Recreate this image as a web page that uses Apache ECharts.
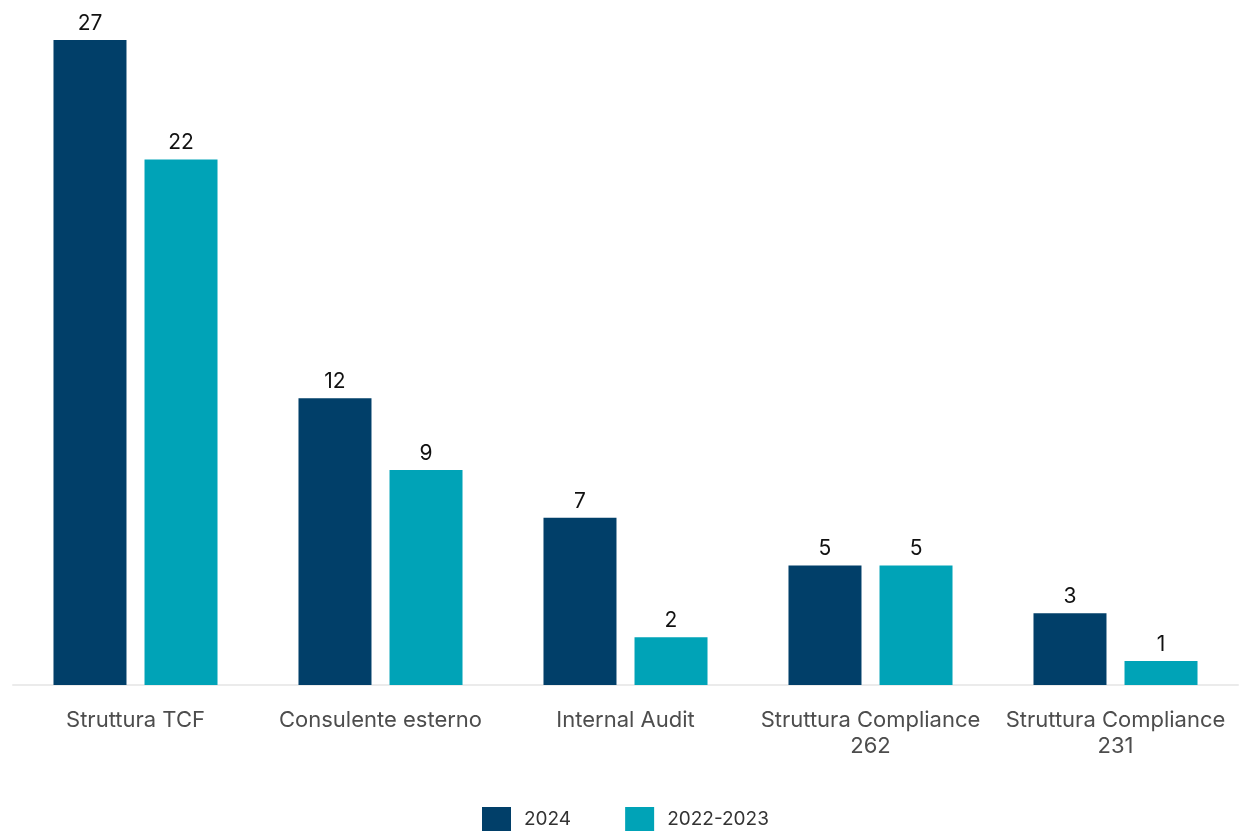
<!DOCTYPE html>
<html>
<head>
<meta charset="utf-8">
<script src="https://cdn.jsdelivr.net/npm/echarts@6/dist/echarts.min.js"></script>
<style>
html,body{margin:0;padding:0;background:#fff;}
#chart{width:1239px;height:831px;}
</style>
</head>
<body>
<div id="chart"></div>
<script>
const categories = ["Struttura TCF", "Consulente esterno", "Internal Audit", "Struttura Compliance\n262", "Struttura Compliance\n231"];
const seriesNames = ["2024", "2022-2023"];
const values2024 = [27, 12, 7, 5, 3];
const values2022_2023 = [22, 9, 2, 5, 1];

const chart = echarts.init(document.getElementById('chart'));
const font = 'Inter, "Noto Sans", sans-serif';
chart.setOption({
  animation: false,
  grid: {left: 13, right: 1, top: 40, bottom: 146, containLabel: false},
  legend: {
    top: 802, left: 477,
    itemWidth: 29, itemHeight: 24, itemGap: 54,
    icon: 'rect',
    textStyle: {fontFamily: font, fontSize: 19, color: '#333', padding: [6, 0, 0, 8]},
    data: seriesNames
  },
  xAxis: {
    type: 'category',
    data: categories,
    axisLine: {show: true, lineStyle: {color: '#ebebeb', width: 2}},
    axisTick: {show: false},
    axisLabel: {fontFamily: font, fontSize: 22, color: '#4d4d4d', margin: 22, lineHeight: 26, interval: 0}
  },
  yAxis: {
    type: 'value', min: 0, max: 27, show: false,
    splitLine: {show: false}
  },
  series: [
    {
      name: seriesNames[0], type: 'bar', data: values2024,
      barWidth: 73, barGap: '24.7%',
      itemStyle: {color: '#013F69'},
      label: {show: true, position: 'top', distance: 6, fontFamily: font, fontSize: 21, color: '#111'}
    },
    {
      name: seriesNames[1], type: 'bar', data: values2022_2023,
      barWidth: 73,
      itemStyle: {color: '#00A3B7'},
      label: {show: true, position: 'top', distance: 6, fontFamily: font, fontSize: 21, color: '#111'}
    }
  ]
});
</script>
</body>
</html>
